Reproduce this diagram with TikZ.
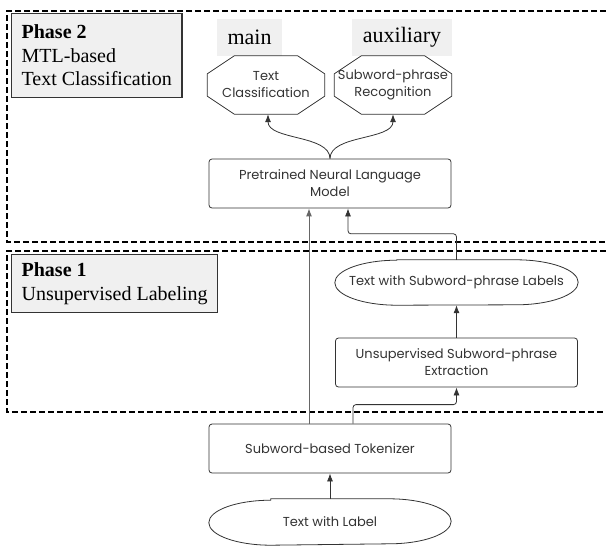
\documentclass[tikz,border=0pt]{standalone}
\usepackage{fontspec}
\setmainfont{Liberation Serif}
\newfontfamily\flowfont{Poppins}
\usetikzlibrary{arrows.meta}

\definecolor{inkgray}{HTML}{333333}
\definecolor{linegray}{HTML}{666666}
\definecolor{tagfill}{HTML}{F0F0F0}

\tikzset{
    flowbox/.style={draw=inkgray, line width=0.8pt, rounded corners=3pt, align=center,
        text=inkgray, font=\flowfont\fontsize{13}{17}\selectfont,
        minimum width=242pt, minimum height=49pt},
    plainnode/.style={align=center, text=inkgray,
        font=\flowfont\fontsize{13}{17}\selectfont, inner sep=0pt},
    phasebox/.style={draw=black!80, line width=1.3pt, fill=tagfill, align=left,
        anchor=north west, inner xsep=10pt, font=\fontsize{20}{23.5}\selectfont},
    tagbox/.style={fill=tagfill, minimum height=37pt, font=\fontsize{22}{26}\selectfont},
    phaseframe/.style={line width=1.1pt, dash pattern=on 6pt off 3pt},
    link/.style={-{Latex[length=8pt, width=6pt]}, draw=inkgray, line width=0.8pt}
}

% octagon outline round a named node
\newcommand{\taskshape}[1]{%
    \draw[draw=inkgray, line width=0.8pt]
        ([xshift=27pt]#1.north west) -- ([xshift=-27pt]#1.north east)
        -- ([yshift=-18pt]#1.north east) -- ([yshift=18pt]#1.south east)
        -- ([xshift=-27pt]#1.south east) -- ([xshift=27pt]#1.south west)
        -- ([yshift=18pt]#1.south west) -- ([yshift=-18pt]#1.north west) -- cycle;}

% stadium outline with elliptic ends round a named node
\newcommand{\termshape}[1]{%
    \draw[draw=inkgray, line width=0.8pt]
        ([xshift=62pt]#1.north west) -- ([xshift=-62pt]#1.north east)
        arc[start angle=90, end angle=-90, x radius=62pt, y radius=22.5pt]
        -- ([xshift=62pt]#1.south west)
        arc[start angle=270, end angle=90, x radius=62pt, y radius=22.5pt] -- cycle;}

\begin{document}
\begin{tikzpicture}[x=1pt, y=-1pt]
    \useasboundingbox (0,0) rectangle (606,547);

    % phase frames
    \draw[phaseframe] (606,11) -| (7,242) -- (606,242);
    \draw[phaseframe] (606,251) -| (7,412) -- (606,412);

    \node[phasebox, minimum height=84pt] (phase2) at (11,13)
        {\textbf{Phase 2}\\MTL-based\\Text Classification};
    \node[phasebox, minimum height=58pt] (phase1) at (11,254)
        {\textbf{Phase 1}\\Unsupervised Labeling};

    % phase 2
    \node[tagbox, minimum width=65pt] (main) at (249.5,37.5) {main};
    \node[tagbox, minimum width=100pt] (aux) at (402,37.5) {auxiliary};

    \node[plainnode, minimum width=117pt, minimum height=58pt] (tc) at (266,85) {Text\\Classification};
    \taskshape{tc}
    \node[plainnode, minimum width=117pt, minimum height=58pt] (sr) at (393,85) {Subword-phrase\\Recognition};
    \taskshape{sr}

    \node[flowbox] (pnlm) at (330,183.5) {Pretrained Neural Language\\Model};

    \draw[link] (pnlm.north) .. controls +(0,-24) and +(0,26) .. ([xshift=2pt]tc.south);
    \draw[link] (pnlm.north) .. controls +(0,-24) and +(0,26) .. (sr.south);

    % phase 1
    \node[plainnode, minimum width=243pt, minimum height=45pt] (tsl) at (456.5,282.5) {Text with Subword-phrase Labels};
    \termshape{tsl}
    \node[flowbox] (ext) at (456.5,362.5) {Unsupervised Subword-phrase\\Extraction};

    \draw[link] (ext.north) -- (tsl.south);
    \draw[link, rounded corners=3pt] (tsl.north) -- ++(0,-26) -| ([xshift=18pt]pnlm.south);

    % input
    \node[flowbox] (tok) at (330,448.5) {Subword-based Tokenizer};
    \node[plainnode, minimum width=242pt, minimum height=46pt] (twl) at (330,522) {Text with Label};
    \termshape{twl}

    \draw[link] (twl.north) -- (tok.south);
    \draw[link, rounded corners=3pt] ([xshift=23pt]tok.north) -- ++(0,-19) -| (ext.south);
    \draw[link, draw=linegray, line width=1pt] ([xshift=-21pt]tok.north) -- ([xshift=-21pt]pnlm.south);

\end{tikzpicture}
\end{document}
